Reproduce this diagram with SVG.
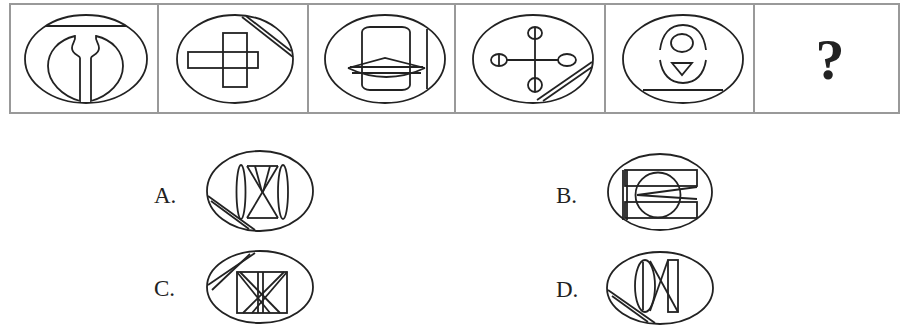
<svg xmlns="http://www.w3.org/2000/svg" width="901" height="325" viewBox="0 0 901 325">
<style>
.s{fill:none;stroke:#222;stroke-width:1.8}
.grid{fill:none;stroke:#999;stroke-width:2}
.lbl{font-family:"Liberation Serif",serif;font-size:23px;fill:#222}
</style>
<rect width="901" height="325" fill="#fff"/>
<g id="grid">
<rect class="grid" x="10" y="4" width="889" height="109"/>
<line class="grid" x1="158" y1="4" x2="158" y2="113"/>
<line class="grid" x1="308" y1="4" x2="308" y2="113"/>
<line class="grid" x1="455" y1="4" x2="455" y2="113"/>
<line class="grid" x1="605" y1="4" x2="605" y2="113"/>
<line class="grid" x1="754" y1="4" x2="754" y2="113"/>
</g>
<g id="fig1" class="s">
<ellipse cx="86" cy="59" rx="61" ry="44"/>
<line x1="46" y1="26" x2="126" y2="26"/>
<path d="M80,101 L80,58 C80,55 72,55 72,48 C72,43 76,41 75,36 C58,40 48,52 48,66 C48,82 62,96 80,101 Z"/>
<path d="M91,101 L91,58 C91,55 99,55 99,48 C99,43 95,41 96,36 C113,40 123,52 123,66 C123,82 109,96 91,101 Z"/>
</g>
<g id="fig2" class="s">
<ellipse cx="235" cy="59" rx="58" ry="44"/>
<rect x="223" y="33" width="24" height="54"/>
<rect x="188" y="52" width="70" height="16"/>
<line x1="242" y1="17" x2="293" y2="57"/>
<line x1="246" y1="16" x2="291" y2="51"/>
</g>
<g id="fig3" class="s">
<ellipse cx="385" cy="59" rx="60" ry="44"/>
<rect x="362" y="27" width="48" height="63" rx="8" ry="5"/>
<path d="M348,68 L385,58 L425,68"/>
<path d="M348,68 Q386,86 425,68"/>
<line x1="350" y1="67" x2="423" y2="67"/>
<line x1="352" y1="73" x2="421" y2="73"/>
<line x1="427" y1="29" x2="427" y2="89"/>
</g>
<g id="fig4" class="s">
<ellipse cx="533" cy="59" rx="60" ry="44"/>
<line x1="535" y1="27" x2="535" y2="92"/>
<line x1="507" y1="60" x2="558" y2="60"/>
<ellipse cx="535" cy="33" rx="7" ry="6"/>
<ellipse cx="535" cy="85" rx="7" ry="7"/>
<ellipse cx="499" cy="60" rx="8" ry="6"/>
<line x1="499" y1="54" x2="499" y2="66"/>
<ellipse cx="567" cy="60" rx="9" ry="6"/>
<line x1="537" y1="100" x2="592" y2="62"/>
<line x1="543" y1="101" x2="592" y2="67"/>
</g>
<g id="fig5" class="s">
<ellipse cx="683" cy="59" rx="60" ry="44"/>
<path d="M660,50 C662,34 670,25 683,25 C696,25 704,34 706,50"/>
<path d="M660,60 C662,74 670,83 683,83 C696,83 704,74 706,60"/>
<ellipse cx="682" cy="43" rx="11" ry="9"/>
<path d="M672,63 L692,63 L682,75 Z"/>
<line x1="643" y1="90" x2="723" y2="90"/>
</g>
<g id="q">
<text x="830" y="79" text-anchor="middle" font-family="Liberation Serif,serif" font-size="58" font-weight="bold" fill="#222">?</text>
</g>
<g id="optA">
<text class="lbl" x="154" y="203">A.</text>
<g class="s">
<ellipse cx="260" cy="191" rx="53" ry="40"/>
<ellipse cx="241" cy="192" rx="4.5" ry="27"/>
<ellipse cx="283" cy="192" rx="5" ry="27"/>
<line x1="247" y1="166" x2="278" y2="166"/>
<line x1="247" y1="218" x2="278" y2="218"/>
<line x1="247" y1="166" x2="278" y2="218"/>
<line x1="278" y1="166" x2="247" y2="218"/>
<line x1="255" y1="166" x2="262" y2="192"/>
<line x1="270" y1="166" x2="263" y2="192"/>
<line x1="208" y1="196" x2="255" y2="230"/>
<line x1="211" y1="201" x2="249" y2="229"/>
</g>
</g>
<g id="optB">
<text class="lbl" x="556" y="203">B.</text>
<g class="s">
<ellipse cx="660" cy="192" rx="52" ry="38"/>
<line x1="623" y1="170" x2="623" y2="220"/>
<line x1="627" y1="170" x2="627" y2="220"/>
<rect x="625" y="170" width="72" height="16"/>
<rect x="625" y="202" width="72" height="16"/>
<circle cx="658" cy="195" r="22.5"/>
<path d="M697,187 L637,195 L697,199"/>
</g>
</g>
<g id="optC">
<text class="lbl" x="154" y="296">C.</text>
<g class="s">
<ellipse cx="260" cy="287" rx="53" ry="36"/>
<line x1="208" y1="285" x2="255" y2="253"/>
<line x1="212" y1="290" x2="250" y2="254"/>
<rect x="237" y="272" width="50" height="41"/>
<line x1="258" y1="272" x2="258" y2="313"/>
<line x1="263" y1="272" x2="263" y2="313"/>
<line x1="237" y1="272" x2="270" y2="313"/>
<line x1="240" y1="272" x2="280" y2="313"/>
<line x1="287" y1="272" x2="252" y2="313"/>
<line x1="284" y1="272" x2="243" y2="313"/>
</g>
</g>
<g id="optD">
<text class="lbl" x="556" y="297">D.</text>
<g class="s">
<ellipse cx="660" cy="288" rx="53" ry="36"/>
<line x1="608" y1="290" x2="655" y2="323"/>
<line x1="612" y1="296" x2="648" y2="322"/>
<ellipse cx="645" cy="286" rx="10" ry="26"/>
<line x1="643" y1="262" x2="643" y2="310"/>
<rect x="668" y="260" width="10" height="52"/>
<line x1="650" y1="261" x2="678" y2="312"/>
<line x1="650" y1="311" x2="668" y2="260"/>
</g>
</g>
</svg>
